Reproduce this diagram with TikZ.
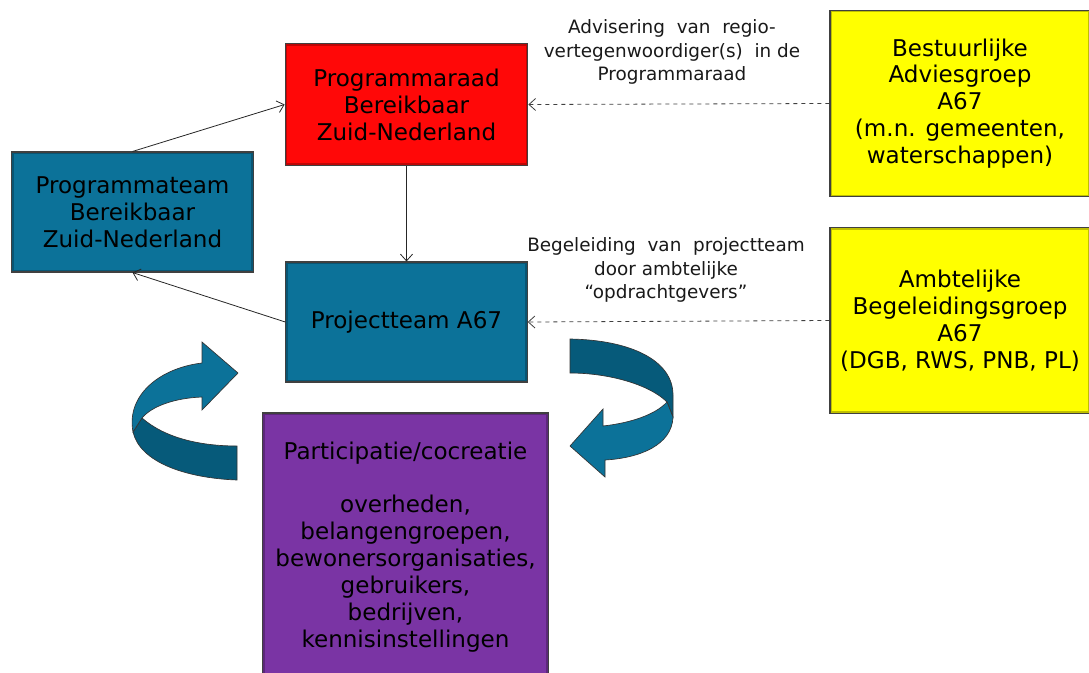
\documentclass[tikz,border=0pt]{standalone}
\usepackage{fontspec}
\setmainfont{DejaVu Sans}
\usetikzlibrary{arrows.meta}

\definecolor{raadred}{RGB}{255,8,8}
\definecolor{teamblue}{RGB}{12,114,153}
\definecolor{teamdark}{RGB}{6,90,122}
\definecolor{partpurple}{RGB}{122,52,164}
\definecolor{groepyellow}{RGB}{255,255,0}

\tikzset{
  box/.style={draw=black!75, line width=0.8pt, fill=#1, align=center,
    font=\fontsize{17.3}{20.2}\selectfont,
    path picture={\draw[line width=3pt, #1!75!black]
      (path picture bounding box.south west) rectangle (path picture bounding box.north east);}},
  note/.style={align=center, font=\fontsize{13.8}{17.6}\selectfont, text=black!90},
  flow/.style={-{Straight Barb[length=5pt,width=9pt]}, black!85, line width=0.6pt},
  advies/.style={flow, dashed, black!75}
}

\begin{document}
\begin{tikzpicture}[x=0.75pt, y=-0.75pt]
	\useasboundingbox (0,0) rectangle (1089,672);
	% organisatie
	\node[box=raadred, minimum width=182pt, minimum height=91pt] (raad) at (406.5,104.5) {Programmaraad\\Bereikbaar\\Zuid-Nederland};
	\node[box=teamblue, minimum width=181pt, minimum height=90pt] (pteam) at (132.5,212) {Programmateam\\Bereikbaar\\Zuid-Nederland};
	\node[box=teamblue, minimum width=181pt, minimum height=90pt] (project) at (406.5,322) {Projectteam A67};
	\node[box=groepyellow, minimum width=195pt, minimum height=140pt] (bestuur) at (960,103.5) {Bestuurlijke\\Adviesgroep\\A67\\(m.n. gemeenten,\\waterschappen)};
	\node[box=groepyellow, minimum width=195pt, minimum height=139pt] (ambt) at (960,320.5) {Ambtelijke\\Begeleidingsgroep\\A67\\(DGB, RWS, PNB, PL)};
	\node[box=partpurple, minimum width=214pt, minimum height=201pt] (part) at (405.5,547) {Participatie/cocreatie\\[20.2pt]overheden,\\belangengroepen,\\bewonersorganisaties,\\gebruikers,\\bedrijven,\\kennisinstellingen};
	% teksten bij de pijlen
	\node[note] (adviestekst) at (672,52) {Advisering \ van \ regio-\\vertegenwoordiger(s) \ in de\\Programmaraad};
	\node[note] (begeltekst) at (666,270) {Begeleiding \ van \ projectteam\\door ambtelijke\\“opdrachtgevers”};
	% pijlen
	\draw[flow] (pteam.north) -- (raad.west);
	\draw[flow] (raad.south) -- (project.north);
	\draw[flow] (project.west) -- (pteam.south);
	\draw[advies] (bestuur.west) -- (raad.east);
	\draw[advies] (ambt.west) -- (project.east);
	% ronde pijl links
	\filldraw[fill=teamdark, draw=black!80, line width=0.5pt] (142,418) .. controls (165,438) and (200,446) .. (237,446) -- (237,480) .. controls (185,478) and (140,462) .. (133,432) -- cycle;
	\filldraw[fill=teamblue, draw=black!80, line width=0.5pt] (133,432) .. controls (126,395) and (160,368) .. (202,363) -- (202,342) -- (238,373) -- (202,410) -- (202,397) .. controls (175,398) and (152,406) .. (142,418) -- cycle;
	% ronde pijl rechts
	\filldraw[fill=teamdark, draw=black!80, line width=0.5pt] (570,339) .. controls (630,340) and (673,360) .. (673,395) -- (673,417) -- (667,402) .. controls (650,385) and (610,373) .. (570,373) -- cycle;
	\filldraw[fill=teamblue, draw=black!80, line width=0.5pt] (667,402) -- (673,417) .. controls (672,445) and (640,458) .. (605,460) -- (605,477) -- (570,446) -- (603,409) -- (603,426) .. controls (630,423) and (655,415) .. (667,402) -- cycle;
\end{tikzpicture}
\end{document}
